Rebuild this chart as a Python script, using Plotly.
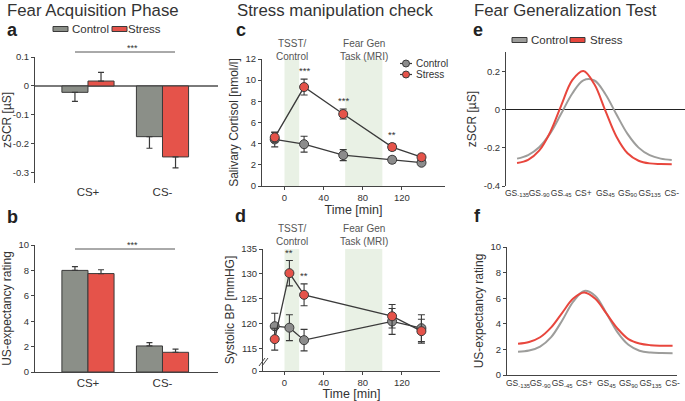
import plotly.graph_objects as go

W, H = 685, 401

# ---------------- data ----------------
acq_categories = ["CS+", "CS-"]
acq_scr_control = [-0.022, -0.175]
acq_scr_control_err = [0.031, 0.040]
acq_scr_stress = [0.017, -0.245]
acq_scr_stress_err = [0.030, 0.038]

acq_us_control = [8.0, 2.05]
acq_us_control_err = [0.30, 0.27]
acq_us_stress = [7.75, 1.55]
acq_us_stress_err = [0.30, 0.25]

time_cort = [-10, 20, 60, 110, 140]
cort_control = [4.4, 3.95, 2.92, 2.48, 2.2]
cort_control_err = [0.7, 0.75, 0.52, 0.3, 0.27]
cort_stress = [4.6, 9.35, 6.8, 3.68, 2.72]
cort_stress_err = [0.45, 0.75, 0.47, 0.33, 0.27]
cort_sig = ["", "***", "***", "**", ""]

time_bp = [-10, 5, 20, 110, 140]
bp_control = [119.5, 119.2, 116.7, 120.45, 119.1]
bp_control_err = [2.6, 2.6, 2.15, 2.6, 2.7]
bp_stress = [116.9, 130.15, 125.8, 121.5, 118.5]
bp_stress_err = [2.2, 2.55, 2.2, 2.35, 2.4]
bp_sig = ["", "**", "**", "", ""]

shade_start = [0, 62]
shade_end = [15, 100]
shade_labels = ["TSST/<br>Control", "Fear Gen<br>Task (MRI)"]

gen_ticks = ["GS<sub>-135</sub>", "GS<sub>-90</sub>", "GS<sub>-45</sub>", "CS+",
             "GS<sub>45</sub>", "GS<sub>90</sub>", "GS<sub>135</sub>", "CS-"]
gen_pos = [0, 0.5, 1, 1.5, 2, 2.5, 3, 3.5, 4, 4.5, 5, 5.5, 6, 6.5, 7]
gen_scr_control = [-0.256, -0.237, -0.196, -0.123, -0.019, 0.087, 0.156, 0.155,
                   0.083, -0.024, -0.126, -0.198, -0.238, -0.256, -0.263]
gen_scr_stress = [-0.279, -0.262, -0.214, -0.117, 0.024, 0.157, 0.205, 0.135,
                  -0.005, -0.141, -0.228, -0.267, -0.281, -0.284, -0.285]
gen_us_control = [1.82, 1.91, 2.22, 2.96, 4.26, 5.73, 6.57, 6.18,
                  4.83, 3.35, 2.36, 1.90, 1.75, 1.71, 1.70]
gen_us_stress = [2.44, 2.58, 2.95, 3.72, 4.86, 5.97, 6.45, 5.96,
                 4.81, 3.64, 2.80, 2.46, 2.33, 2.29, 2.28]

# ---------------- style ----------------
GRAY = "#8b8f88"
RED = "#e5534a"
LGRAY = "#9d9d9b"
LRED = "#e8463d"
DARK = "#3a3a3a"
AX = "#444444"
TXT = "#333333"
SHADE = "#e9f1e5"
FONT = "Liberation Sans, Arial, sans-serif"


def px(x):
    return x / W


def py(y):
    return 1 - y / H


def dom_x(a, b):
    return [px(a), px(b)]


def dom_y(top, bottom):
    return [py(bottom), py(top)]


def one_sided(vals, errs):
    up = [e if v >= 0 else 0 for v, e in zip(vals, errs)]
    dn = [e if v < 0 else 0 for v, e in zip(vals, errs)]
    return dict(type="data", symmetric=False, array=up, arrayminus=dn,
                color=DARK, thickness=1.2, width=3)


fig = go.Figure()

# ---- panel a ----
for vals, errs, col in [(acq_scr_control, acq_scr_control_err, GRAY),
                        (acq_scr_stress, acq_scr_stress_err, RED)]:
    fig.add_trace(go.Bar(x=acq_categories, y=vals, marker=dict(color=col, line=dict(color=DARK, width=1)),
                         error_y=one_sided(vals, errs), xaxis="x", yaxis="y", showlegend=False))
# ---- panel b ----
for vals, errs, col in [(acq_us_control, acq_us_control_err, GRAY),
                        (acq_us_stress, acq_us_stress_err, RED)]:
    fig.add_trace(go.Bar(x=acq_categories, y=vals, marker=dict(color=col, line=dict(color=DARK, width=1)),
                         error_y=one_sided(vals, errs), xaxis="x2", yaxis="y2", showlegend=False))


def line_trace(xv, yv, ev, col, xa, ya):
    return go.Scatter(x=xv, y=yv, mode="lines+markers",
                      line=dict(color=DARK, width=1.3),
                      marker=dict(color=col, size=9, line=dict(color=DARK, width=1)),
                      error_y=dict(type="data", array=ev, color=DARK, thickness=1.1, width=3.5),
                      xaxis=xa, yaxis=ya, showlegend=False, cliponaxis=False)


# ---- panel c ----
fig.add_trace(line_trace(time_cort, cort_control, cort_control_err, "#8c8c8c", "x3", "y3"))
fig.add_trace(line_trace(time_cort, cort_stress, cort_stress_err, RED, "x3", "y3"))
# ---- panel d ----
fig.add_trace(line_trace(time_bp, bp_control, bp_control_err, "#8c8c8c", "x4", "y4"))
fig.add_trace(line_trace(time_bp, bp_stress, bp_stress_err, RED, "x4", "y4"))

# ---- panel e / f ----
for yv, col in [(gen_scr_control, LGRAY), (gen_scr_stress, LRED)]:
    fig.add_trace(go.Scatter(x=gen_pos, y=yv, mode="lines", line=dict(color=col, width=2, shape="spline"),
                             xaxis="x5", yaxis="y5", showlegend=False))
for yv, col in [(gen_us_control, LGRAY), (gen_us_stress, LRED)]:
    fig.add_trace(go.Scatter(x=gen_pos, y=yv, mode="lines", line=dict(color=col, width=2, shape="spline"),
                             xaxis="x6", yaxis="y6", showlegend=False))

tickfont = dict(size=9.5, color=TXT, family=FONT)
titlefont = dict(size=12, color=TXT, family=FONT)
genfont = dict(size=8.5, color=TXT, family=FONT)


def yax(domain, anchor, rng, tickvals, ticktext=None, title="", **kw):
    d = dict(domain=domain, anchor=anchor, range=rng, tickvals=tickvals,
             ticktext=ticktext if ticktext is not None else [str(t) for t in tickvals],
             showline=True, linecolor=AX, linewidth=1, ticks="outside", ticklen=3,
             tickcolor=AX, tickfont=tickfont, showgrid=False, zeroline=False,
             title=dict(text=title, font=titlefont, standoff=4), automargin=False)
    d.update(kw)
    return d


def xax(domain, anchor, rng, **kw):
    d = dict(domain=domain, anchor=anchor, range=rng, showgrid=False, zeroline=False,
             tickfont=tickfont, automargin=False)
    d.update(kw)
    return d


a_ticks = [0.1, 0, -0.1, -0.2, -0.3]
b_ticks = [0, 2, 4, 6, 8, 10]
c_ticks = [0, 2, 4, 6, 8, 10, 12]
d_ticks = [110.5, 115, 120, 125, 130, 135]
d_text = ["0", "115", "120", "125", "130", "135"]
e_ticks = [0.2, 0, -0.2, -0.4]
f_ticks = [0, 2, 4, 6, 8, 10]
time_ticks = [0, 40, 80, 120]

fig.update_layout(
    width=W, height=H, margin=dict(l=0, r=0, t=0, b=0),
    paper_bgcolor="white", plot_bgcolor="rgba(0,0,0,0)",
    font=dict(family=FONT, color=TXT),
    barmode="group", bargap=0.3, bargroupgap=0,
    xaxis=xax(dom_x(35, 218), "y", [-0.711, 1.745], type="category", showline=False, ticks="",
              tickfont=dict(size=11.5, color=TXT, family=FONT)),
    yaxis=yax(dom_y(57, 183), "x", [-0.335, 0.1], a_ticks, [f"{t:g}" for t in a_ticks], "zSCR [µS]",
              zeroline=True, zerolinecolor="#7a7a7a", zerolinewidth=2),
    xaxis2=xax(dom_x(35, 218), "y2", [-0.711, 1.745], type="category", showline=True, linecolor=AX,
               ticks="", tickfont=dict(size=11.5, color=TXT, family=FONT)),
    yaxis2=yax(dom_y(245, 372), "x2", [0, 10], b_ticks, None, "US-expectancy rating"),
    xaxis3=xax(dom_x(262, 445), "y3", [-23, 164], tickvals=time_ticks, showline=True, linecolor=AX,
               ticks="outside", ticklen=3, tickcolor=AX,
               title=dict(text="Time [min]", font=dict(size=12.5, color=TXT, family=FONT), standoff=2)),
    yaxis3=yax(dom_y(59, 186), "x3", [0, 12], c_ticks, None, "Salivary Cortisol [nmol/l]"),
    xaxis4=xax(dom_x(263, 440), "y4", [-22, 159], tickvals=time_ticks, showline=True, linecolor=AX,
               ticks="outside", ticklen=3, tickcolor=AX,
               title=dict(text="Time [min]", font=dict(size=12.5, color=TXT, family=FONT), standoff=2)),
    yaxis4=yax(dom_y(249, 371), "x4", [110.5, 135], d_ticks, d_text, "Systolic BP [mmHG]"),
    xaxis5=xax(dom_x(506, 685), "y5", [-0.5, 7.6], tickvals=list(range(len(gen_ticks))), ticktext=gen_ticks,
               tickangle=0, showline=False, ticks="", tickfont=genfont),
    yaxis5=yax(dom_y(52, 186), "x5", [-0.4, 0.305], e_ticks, [f"{t:g}" for t in e_ticks], "zSCR [µS]",
               zeroline=True, zerolinecolor="#222222", zerolinewidth=1.3),
    xaxis6=xax(dom_x(507, 677), "y6", [-0.5, 7.2], tickvals=list(range(len(gen_ticks))), ticktext=gen_ticks,
               tickangle=0, showline=True, linecolor=AX, ticks="", tickfont=genfont),
    yaxis6=yax(dom_y(247, 375), "x6", [0, 10], f_ticks, None, "US-expectancy rating"),
)

shapes = []
ann = []

# shaded intervals in c and d
for xa, ya in [("x3", "y3"), ("x4", "y4")]:
    for s0, s1 in zip(shade_start, shade_end):
        shapes.append(dict(type="rect", xref=xa, yref=f"{ya} domain", x0=s0, x1=s1, y0=0, y1=1,
                           fillcolor=SHADE, line=dict(width=0), layer="below"))
for s0, s1, lab in zip(shade_start, shade_end, shade_labels):
    for xa, ytop in [("x3", 50), ("x4", 235)]:
        ann.append(dict(xref=xa, yref="paper", x=(s0 + s1) / 2, y=py(ytop), text=lab, showarrow=False,
                        font=dict(size=10, color="#555555"), xanchor="center", yanchor="middle"))

# significance lines in a and b (drawn above the panels' value range)
for ylev in [52, 249]:
    shapes.append(dict(type="line", xref="paper", yref="paper", x0=px(75), x1=px(175), y0=py(ylev), y1=py(ylev),
                       line=dict(color="#555555", width=1)))
    ann.append(dict(xref="paper", yref="paper", x=px(125), y=py(ylev - 4), text="***", showarrow=False,
                    font=dict(size=9, color=TXT), yanchor="middle"))

# significance stars in c and d
for xs, ys, es, sig, xa, ya, off in [(time_cort, cort_stress, cort_stress_err, cort_sig, "x3", "y3", 0.12),
                                     (time_bp, bp_stress, bp_stress_err, bp_sig, "x4", "y4", 0.1)]:
    for xv, yv, ev, s in zip(xs, ys, es, sig):
        if s:
            ann.append(dict(xref=xa, yref=ya, x=xv, y=yv + ev + off, text=s, showarrow=False,
                            font=dict(size=9.5, color=TXT), yanchor="bottom"))

# axis break on d
for dx in [0, 3]:
    shapes.append(dict(type="line", xref="paper", yref="paper", x0=px(259 + dx), x1=px(265 + dx),
                       y0=py(366), y1=py(358), line=dict(color=AX, width=1)))

# legends a and e (bar-like swatches)
for (sx, tx, lab, col, yc) in [(53, 70, "Control", GRAY, 29), (112, 126, "Stress", RED, 29),
                               (512, 529, "Control", LGRAY, 40), (570, 588, "Stress", LRED, 40)]:
    shapes.append(dict(type="rect", xref="paper", yref="paper", x0=px(sx), x1=px(sx + 15),
                       y0=py(yc + 2.5), y1=py(yc - 2.5), fillcolor=col, line=dict(color=DARK, width=1)))
    ann.append(dict(xref="paper", yref="paper", x=px(tx), y=py(yc), text=lab, showarrow=False,
                    font=dict(size=11.5, color=TXT), xanchor="left", yanchor="middle"))

# legend c (line + marker)
for lab, col, yc in [("Control", "#8c8c8c", 63.5), ("Stress", RED, 74.5)]:
    shapes.append(dict(type="line", xref="paper", yref="paper", x0=px(400), x1=px(412), y0=py(yc), y1=py(yc),
                       line=dict(color=DARK, width=1.2)))
    shapes.append(dict(type="circle", xref="paper", yref="paper", x0=px(402.5), x1=px(409.5),
                       y0=py(yc + 3.5), y1=py(yc - 3.5), fillcolor=col, line=dict(color=DARK, width=1)))
    ann.append(dict(xref="paper", yref="paper", x=px(414), y=py(yc), text=lab, showarrow=False,
                    font=dict(size=10, color=TXT), xanchor="left", yanchor="middle"))

# titles and panel letters
for tx, ty, text, size, bold in [(5, 10.5, "Fear Acquisition Phase", 16.8, False),
                                 (235, 10.5, "Stress manipulation check", 16.8, False),
                                 (472, 10.5, "Fear Generalization Test", 16.8, False),
                                 (5, 30, "a", 18, True), (5, 217, "b", 18, True),
                                 (234, 30, "c", 18, True), (233, 216, "d", 18, True),
                                 (471, 30, "e", 18, True), (472, 216, "f", 18, True)]:
    ann.append(dict(xref="paper", yref="paper", x=px(tx), y=py(ty), text=f"<b>{text}</b>" if bold else text,
                    showarrow=False, xanchor="left", yanchor="middle",
                    font=dict(size=size, color="#222222" if bold else TXT, family=FONT)))

fig.update_layout(shapes=shapes, annotations=ann)
fig.write_html("out.html", config={"displayModeBar": False},
               post_script="document.body.style.margin='0px';document.body.style.overflow='hidden';")
